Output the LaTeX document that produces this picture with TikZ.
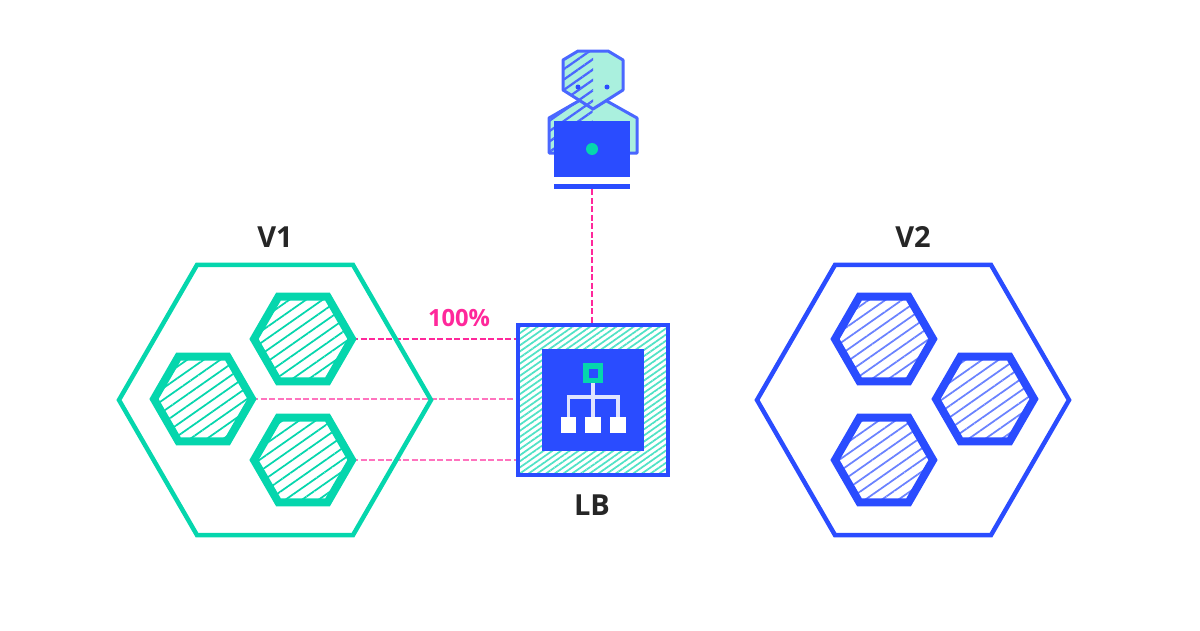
\documentclass[tikz,border=0pt]{standalone}
\usepackage{fontspec}
\setmainfont{Open Sans}
\usepackage{tikz}
\usetikzlibrary{calc,shapes.geometric,patterns.meta,backgrounds}
\definecolor[named]{myColorMainA}{RGB}{5,214,173}
\definecolor[named]{myColorMainB}{RGB}{42,76,255}
\definecolor[named]{myColorMainC}{RGB}{255,40,155}
\definecolor[named]{myColorLight}{RGB}{170,240,222}

\begin{document}
\begin{tikzpicture}
[%
    hexBig/.style={
      regular polygon,
      regular polygon sides=6,
      minimum size=6.24cm,
      inner sep=0pt,
      outer sep=0pt,
      line width=0.09cm
    },
    hexSmall/.style={
      regular polygon,
      regular polygon sides=6,
      minimum size=1.96cm,
      inner sep=0pt,
      outer sep=0pt,
      line width=0.16cm,
      line join=miter
    },
    hatchV1/.style={
      draw=myColorMainA,
      pattern={Lines[angle=35,distance=0.19cm,line width=0.035cm]},
      pattern color=myColorMainA
    },
    hatchV2/.style={
      draw=myColorMainB,
      pattern={Lines[angle=35,distance=0.19cm,line width=0.035cm]},
      pattern color=myColorMainB!70
    },
    link/.style={
      myColorMainC,
      dashed,
      dash pattern=on 0.12cm off 0.05cm,
      line width=0.03cm
    },
    linkSoft/.style={
      link,
      myColorMainC!65,
      line width=0.045cm
    },
    title/.style={
      font=\fontsize{16.5}{18}\selectfont\bfseries,
      text=black!85
    },
    leaf/.style={
      rectangle,
      fill=white,
      inner sep=0pt,
      minimum size=0.31cm
    },
    personHatch/.style={
      pattern={Lines[angle=35,distance=0.17cm,line width=0.045cm]},
      pattern color=myColorMainB!85
    }
  ]
  	\useasboundingbox (0,0) rectangle (24,12.6);

  	%V1
  	\node[title] at (5.5,7.86) (labelV1) {V1};
  	\draw (5.5,4.6) node[hexBig,draw=myColorMainA] (bigV1) {};
  	\draw (6.06,5.82) node[hexSmall,hatchV1] (podA1) {};
  	\draw (4.06,4.62) node[hexSmall,hatchV1] (podA2) {};
  	\draw (6.06,3.40) node[hexSmall,hatchV1] (podA3) {};

  	%V2
  	\node[title] at (18.26,7.86) (labelV2) {V2};
  	\draw (18.26,4.6) node[hexBig,draw=myColorMainB] (bigV2) {};
  	\draw (17.68,5.82) node[hexSmall,hatchV2] (podB1) {};
  	\draw (19.70,4.62) node[hexSmall,hatchV2] (podB2) {};
  	\draw (17.68,3.40) node[hexSmall,hatchV2] (podB3) {};

  	%LB
  	\draw (11.86,4.60) node[rectangle,minimum size=3cm,inner sep=0pt,outer sep=0pt,draw=myColorMainB,line width=0.09cm,
  	  pattern={Lines[angle=35,distance=0.1cm,line width=0.035cm]},pattern color=myColorMainA!70] (lb) {};
  	\draw (11.86,4.61) node[rectangle,minimum size=2.04cm,inner sep=0pt,fill=myColorMainB] (lbInner) {};
  	\node[title] at (11.84,2.5) (labelLB) {LB};

  	%icon
  	\draw (11.86,5.14) node[rectangle,minimum size=0.29cm,inner sep=0pt,outer sep=0pt,draw=myColorMainA,line width=0.11cm] (iconRoot) {};
  	\draw (11.37,4.10) node[leaf] (iconA) {};
  	\draw (11.86,4.10) node[leaf] (iconB) {};
  	\draw (12.36,4.10) node[leaf] (iconC) {};
  	\coordinate (iconBus) at (11.86,4.66);
  	\draw[white!85!myColorMainB,line width=0.07cm] (iconRoot.south) ++(0,-0.055) -- (iconB.north);
  	\draw[white!85!myColorMainB,line width=0.07cm] (iconA.north) |- (iconBus) -| (iconC.north);

  	%person
  	\fill[myColorLight] (10.98,10.24) -- (11.85,10.74) -- (12.74,10.24) -- (12.74,9.54) -- (10.98,9.54) -- cycle;
  	\path[personHatch] (10.98,10.24) -- (11.85,10.74) -- (11.85,9.54) -- (10.98,9.54) -- cycle;
  	\draw[myColorMainB!85,line width=0.06cm,line join=round] (10.98,10.24) -- (11.85,10.74) -- (12.74,10.24) -- (12.74,9.54) -- (10.98,9.54) -- cycle;
  	\fill[myColorLight] (11.26,11.40) -- (11.56,11.58) -- (12.16,11.58) -- (12.46,11.40) -- (12.46,10.80) -- (11.86,10.42) -- (11.26,10.80) -- cycle;
  	\path[personHatch] (11.26,11.40) -- (11.56,11.58) -- (11.86,11.58) -- (11.86,10.42) -- (11.26,10.80) -- cycle;
  	\draw[myColorMainB!85,line width=0.06cm,line join=round] (11.26,11.40) -- (11.56,11.58) -- (12.16,11.58) -- (12.46,11.40) -- (12.46,10.80) -- (11.86,10.42) -- (11.26,10.80) -- cycle;
  	\fill[myColorMainB] (11.56,10.86) circle (0.05);
  	\fill[myColorMainB] (12.14,10.86) circle (0.05);
  	\draw (11.84,9.62) node[rectangle,minimum width=1.52cm,minimum height=1.12cm,inner sep=0pt,fill=myColorMainB] (laptop) {};
  	\draw (11.84,9.62) node[circle,minimum size=0.24cm,inner sep=0pt,fill=myColorMainA] (laptopDot) {};
  	\draw (11.84,8.87) node[rectangle,minimum width=1.52cm,minimum height=0.1cm,inner sep=0pt,fill=myColorMainB] (desk) {};

  	%links
  	\begin{scope}[on background layer]
  	\draw[link] (desk.south) -- (lb.north -| desk.south);
  	\draw[link] (podA1.east) -- (lb.west |- podA1.east);
  	\draw[linkSoft] (podA2.east) -- (lb.west |- podA2.east);
  	\draw[linkSoft] (podA3.east) -- (lb.west |- podA3.east);
  	\end{scope}
  	\node at (9.18,6.24) (labelPct) {\textcolor{myColorMainC}{\fontsize{13.5}{15}\selectfont\bfseries 100\%}};
\end{tikzpicture}
\end{document}
